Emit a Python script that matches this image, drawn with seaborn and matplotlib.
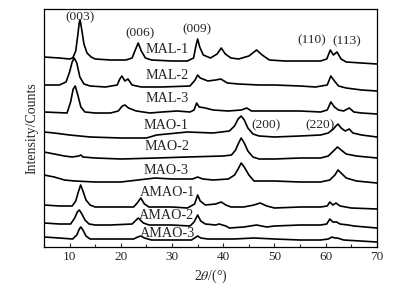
import pandas as pd
import seaborn as sns
import matplotlib.pyplot as plt
from matplotlib.ticker import MultipleLocator

# XRD patterns (2theta, offset intensity)
mal1_t = [5, 8, 10, 10.6, 11.2, 11.6, 11.9, 12.05, 12.35, 12.8, 13.4, 14.2, 15, 18, 21, 22.2, 22.9, 23.4, 24.0, 24.8,
          26, 30, 33, 34.2, 34.7, 35.0, 35.4, 36.1, 37.5, 38.8, 39.6, 40.4, 41.5, 43, 45, 46.5, 47.6, 49, 52, 56, 59,
          60.2, 60.9, 61.5, 62.2, 63.0, 64, 67, 70]
mal1_y = [190, 189, 188, 189, 196, 212, 225, 227, 218, 203, 194, 190, 188, 187, 187, 189, 198, 204, 196, 189,
          187, 186, 186, 189, 202, 208, 200, 192, 189, 193, 199, 193, 189, 188, 191, 197, 192, 187, 186, 186, 186,
          188, 197, 192, 195, 188, 185, 184, 183]

mal2_t = [5, 8, 9.3, 10.0, 10.5, 10.9, 11.4, 12.0, 12.8, 14, 17, 19.3, 19.8, 20.2, 20.8, 21.4, 22.2, 24, 28, 33.5,
          34.5, 35.0, 35.5, 37, 38.5, 39.5, 40.8, 43, 47, 50, 55, 58, 60.3, 61.0, 61.7, 62.5, 64, 67, 70]
mal2_y = [162, 162, 165, 175, 185, 189, 184, 170, 163, 161, 160, 162, 168, 171, 166, 168, 162, 160, 160, 161,
          167, 172, 169, 166, 167, 168, 164, 163, 162, 162, 161, 160, 162, 171, 166, 161, 159, 157, 156]

mal3_t = [5, 9.5, 10.2, 10.7, 11.1, 11.6, 12.2, 13, 15, 18, 19.5, 20.3, 20.8, 21.5, 23, 25.7, 28, 31, 33.5, 34.3,
          34.8, 35.3, 36.5, 38, 41, 43.5, 44.6, 45.5, 50, 55, 59, 60.3, 61.0, 61.7, 62.5, 63.5, 64.6, 65.5, 67, 70]
mal3_y = [135, 134, 145, 158, 161, 152, 140, 135, 134, 134, 136, 141, 142, 139, 136, 134, 135, 136, 135, 137,
          144, 140, 139, 137, 136, 137, 139, 136, 136, 136, 135, 137, 145, 140, 137, 136, 139, 135, 134, 133]

mao1_t = [5, 7, 10, 14, 20, 25, 27, 33, 38, 41.2, 42.2, 42.9, 43.5, 44.1, 44.8, 45.8, 47, 50, 55, 59, 60.5, 61.5,
          62.0, 62.4, 63.0, 63.8, 64.6, 65.3, 67, 70]
mao1_y = [115, 114, 112, 110, 109, 109, 112, 115, 114, 116, 121, 128, 131, 127, 119, 113, 111, 110, 111, 112,
          114, 118, 121, 123, 119, 116, 118, 114, 112, 110]

mao2_t = [5, 7, 9, 10.5, 11.8, 12.2, 12.6, 15, 20, 27, 33, 40, 41.6, 42.4, 43.0, 43.5, 44.1, 44.8, 45.8, 47, 50,
          55, 59, 60.5, 61.5, 62.3, 63.0, 64, 66, 70]
mao2_y = [95, 93, 91, 90, 91, 92, 90, 89, 88, 89, 90, 91, 92, 97, 104, 109, 104, 96, 90, 88, 88,
          89, 89, 91, 96, 100, 97, 93, 91, 89]

mao3_t = [5, 7, 9, 11, 15, 20, 26.7, 30, 34, 35.0, 36, 38, 41, 42.2, 42.9, 43.5, 44.1, 45.0, 46, 50, 55, 59, 60.8,
          61.8, 62.4, 63.0, 64, 66, 70]
mao3_y = [72, 70, 67, 66, 65, 65, 69, 68, 68, 70, 68, 67, 68, 72, 78, 84, 80, 72, 66, 66, 65, 65, 67,
          72, 77, 74, 69, 66, 64]

amao1_t = [5, 8, 10.5, 11.2, 11.7, 12.15, 12.6, 13.2, 14, 15, 18, 22.5, 23.2, 23.9, 24.6, 25.5, 30, 33, 34.4, 35.0,
           35.5, 36.5, 38.5, 39.6, 40.5, 41.5, 44, 46.0, 47.2, 48.5, 50, 55, 59, 60.3, 60.8, 61.4, 62.0, 62.8, 65, 70]
amao1_y = [42, 41, 41, 46, 55, 62, 56, 47, 42, 40, 40, 40, 44, 49, 43, 40, 40, 39, 43, 52,
           46, 42, 43, 45, 42, 40, 40, 42, 44, 41, 39, 40, 40, 41, 45, 42, 44, 41, 39, 38]

amao2_t = [5, 8, 10.2, 11.0, 11.5, 11.9, 12.4, 13.0, 13.8, 15, 18, 22.2, 23.4, 24.4, 25.5, 30, 33.5, 34.3, 35.0,
           35.6, 36.5, 38.5, 39.2, 40.5, 41.2, 44, 46.5, 48.5, 50, 55, 59, 60.2, 60.8, 61.4, 62.1, 62.8, 64.4, 65.5,
           70]
amao2_y = [24, 23, 23, 29, 35, 37, 33, 27, 23, 22, 22, 23, 29, 24, 22, 22, 21, 25, 32,
           26, 23, 22, 23, 21, 19, 20, 22, 20, 21, 22, 22, 23, 28, 25, 25, 23, 22, 21,
           19]

amao3_t = [5, 8, 10.6, 11.4, 11.9, 12.2, 12.6, 13.2, 14.0, 18, 22.5, 23.3, 23.9, 24.6, 26, 30, 33.8, 34.4, 35.0,
           35.6, 37, 42, 46, 50, 55, 59, 60.5, 61.2, 61.8, 62.3, 63.5, 70]
amao3_y = [10, 9, 8, 12, 18, 20, 17, 11, 8, 8, 8, 10, 11, 9, 7, 7, 7, 9, 11,
           9, 8, 8, 9, 8, 7, 7, 8, 10, 9, 9, 7, 5]

names = ['MAL-1', 'MAL-2', 'MAL-3', 'MAO-1', 'MAO-2', 'MAO-3', 'AMAO-1', 'AMAO-2', 'AMAO-3']
series = [(mal1_t, mal1_y), (mal2_t, mal2_y), (mal3_t, mal3_y), (mao1_t, mao1_y), (mao2_t, mao2_y),
          (mao3_t, mao3_y), (amao1_t, amao1_y), (amao2_t, amao2_y), (amao3_t, amao3_y)]
label_x = [33.3, 33.3, 33.3, 33.3, 33.3, 33.3, 34.5, 34.2, 34.5]
label_y = [197.7, 171, 148.7, 122, 100.3, 77, 54.7, 31.3, 13.7]

peak_labels = ['(003)', '(006)', '(009)', '(110)', '(113)', '(200)', '(220)']
peak_x = [12.0, 23.75, 34.8, 57.3, 64.2, 48.3, 58.8]
peak_y = [230, 214, 218, 207, 206, 122, 122]

sns.set_style('ticks')
plt.rcParams['font.family'] = ['Liberation Serif', 'DejaVu Serif']
plt.rcParams['mathtext.fontset'] = 'stix'

fig = plt.figure(figsize=(4.01, 2.95), dpi=100)
ax = fig.add_axes([0.1097, 0.1627, 0.8303, 0.8068])

for name, (t, y) in zip(names, series):
    df = pd.DataFrame({'two_theta': t, 'intensity': y})
    sns.lineplot(data=df, x='two_theta', y='intensity', color='black', linewidth=1.2, ax=ax)

for name, lx, ly in zip(names, label_x, label_y):
    ax.text(lx, ly, name, ha='right', va='center', fontsize=10.2)

for lab, px, py in zip(peak_labels, peak_x, peak_y):
    ax.text(px, py, lab, ha='center', va='center', fontsize=9.7)

ax.set_xlim(5, 70)
ax.set_ylim(0, 238)
ax.set_yticks([])
ax.xaxis.set_major_locator(MultipleLocator(10))
ax.xaxis.set_minor_locator(MultipleLocator(5))
ax.tick_params(axis='x', direction='in', length=3, width=0.8, labelsize=9.5, pad=3)
ax.tick_params(axis='x', which='minor', direction='in', length=2, width=0.8)
for s in ax.spines.values():
    s.set_linewidth(0.9)
    s.set_color('black')

ax.set_xlabel(r'2$\mathit{\theta}$/(°)', fontsize=10, labelpad=3)
ax.set_ylabel('Intensity/Counts', fontsize=10, labelpad=4)

plt.savefig('out.png', dpi=100)
